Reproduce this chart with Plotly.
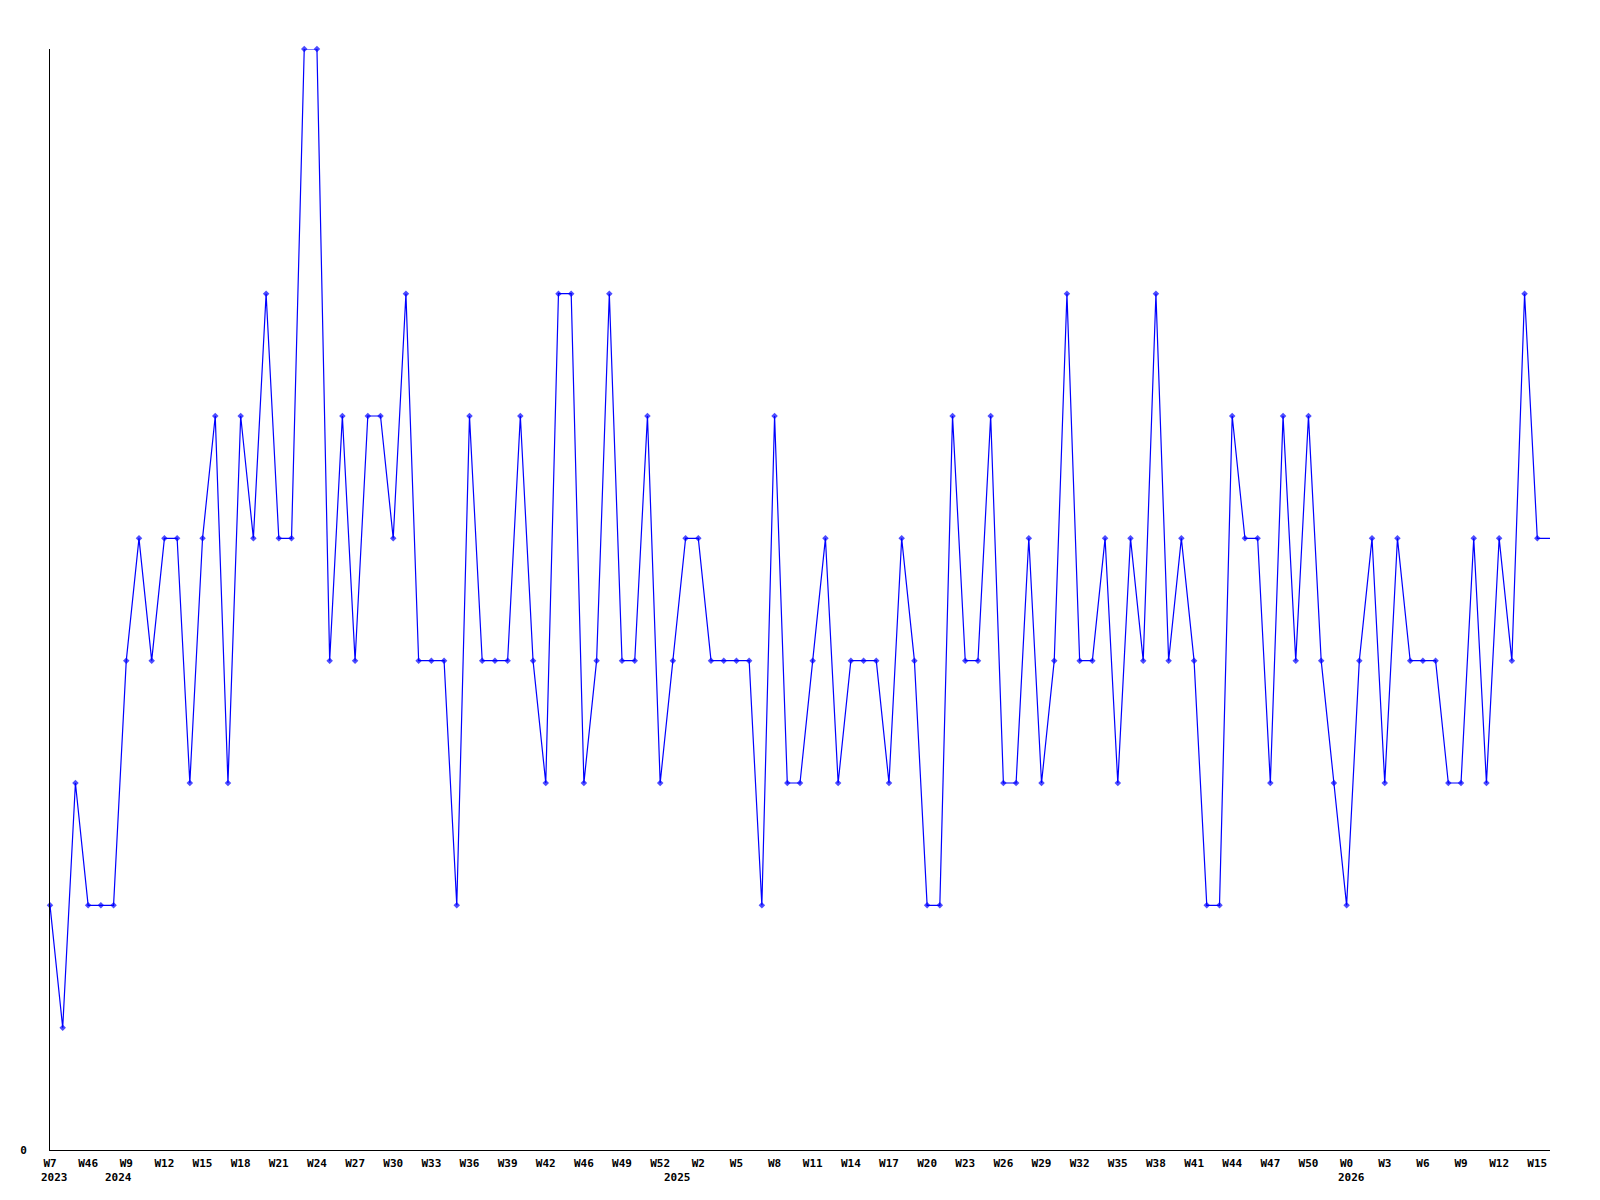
import plotly.graph_objects as go

# ---- data ----
years = (
    [2023, 2023, 2023, 2023, 2023]
    + [2024] * 44
    + [2025] * 53
    + [2026] * 17
)
weeks = [
    "W7", "W14", "W40", "W46", "W50",
    "W8", "W9", "W10", "W11", "W12", "W13", "W14", "W15", "W16", "W17", "W18",
    "W19", "W20", "W21", "W22", "W23", "W24", "W25", "W26", "W27", "W28", "W29",
    "W30", "W31", "W32", "W33", "W34", "W35", "W36", "W37", "W38", "W39", "W40",
    "W41", "W42", "W43", "W44", "W46", "W47", "W48", "W49", "W50", "W51", "W52",
    "W0", "W1", "W2", "W3", "W4", "W5", "W6", "W7", "W8", "W9", "W10", "W11",
    "W12", "W13", "W14", "W15", "W16", "W17", "W18", "W19", "W20", "W21", "W22",
    "W23", "W24", "W25", "W26", "W27", "W28", "W29", "W30", "W31", "W32", "W33",
    "W34", "W35", "W36", "W37", "W38", "W39", "W40", "W41", "W42", "W43", "W44",
    "W45", "W46", "W47", "W48", "W49", "W50", "W51", "W52",
    "W0", "W1", "W2", "W3", "W4", "W5", "W6", "W7", "W8", "W9", "W10", "W11",
    "W12", "W13", "W14", "W15", "W16",
]
values = [
    2, 1, 3, 2, 2, 2, 4, 5, 4, 5,
    5, 3, 5, 6, 3, 6, 5, 7, 5, 5,
    9, 9, 4, 6, 4, 6, 6, 5, 7, 4,
    4, 4, 2, 6, 4, 4, 4, 6, 4, 3,
    7, 7, 3, 4, 7, 4, 4, 6, 3, 4,
    5, 5, 4, 4, 4, 4, 2, 6, 3, 3,
    4, 5, 3, 4, 4, 4, 3, 5, 4, 2,
    2, 6, 4, 4, 6, 3, 3, 5, 3, 4,
    7, 4, 4, 5, 3, 5, 4, 7, 4, 5,
    4, 2, 2, 6, 5, 5, 3, 6, 4, 6,
    4, 3, 2, 4, 5, 3, 5, 4, 4, 4,
    3, 3, 5, 3, 5, 4, 7, 5, 5,
]
y_max = 9
tick_step = 3

# ---- figure ----
n = len(values)
idx = list(range(n))
marker_sizes = [5] * (n - 1) + [0]

fig = go.Figure()
fig.add_trace(go.Scatter(
    x=idx, y=values, mode="lines+markers",
    line=dict(color="#0000FF", width=1.2),
    marker=dict(symbol="diamond", size=marker_sizes, color="#0000FF", line=dict(width=0)),
    hoverinfo="skip", showlegend=False, cliponaxis=False,
))

tickvals = idx[::tick_step][:40]
ticktext = [weeks[i] for i in tickvals]

font_main = dict(family="DejaVu Sans Mono", size=11, color="black", weight="bold")

# year labels at first point of each year
annotations = []
seen = set()
for i, yr in enumerate(years):
    if yr not in seen:
        seen.add(yr)
        annotations.append(dict(
            x=i, y=0, xref="x", yref="paper", text=str(yr), showarrow=False,
            xanchor="left", yanchor="top", xshift=-11, yshift=-19, font=font_main,
        ))

fig.update_layout(
    width=1592, height=1192,
    margin=dict(l=42, r=50, t=41, b=50, pad=0),
    paper_bgcolor="white", plot_bgcolor="white",
    annotations=annotations,
    xaxis=dict(
        range=[0, n - 1], showgrid=False, zeroline=False,
        showline=True, linecolor="black", linewidth=1,
        tickmode="array", tickvals=tickvals, ticktext=ticktext,
        ticks="", tickfont=font_main, ticklabelstandoff=3,
    ),
    yaxis=dict(
        range=[0, y_max], showgrid=False, zeroline=False,
        showline=True, linecolor="black", linewidth=1,
        tickmode="array", tickvals=[0], ticktext=["0"],
        ticks="", tickfont=font_main, ticklabelstandoff=20,
    ),
)

fig.write_html("out.html")
